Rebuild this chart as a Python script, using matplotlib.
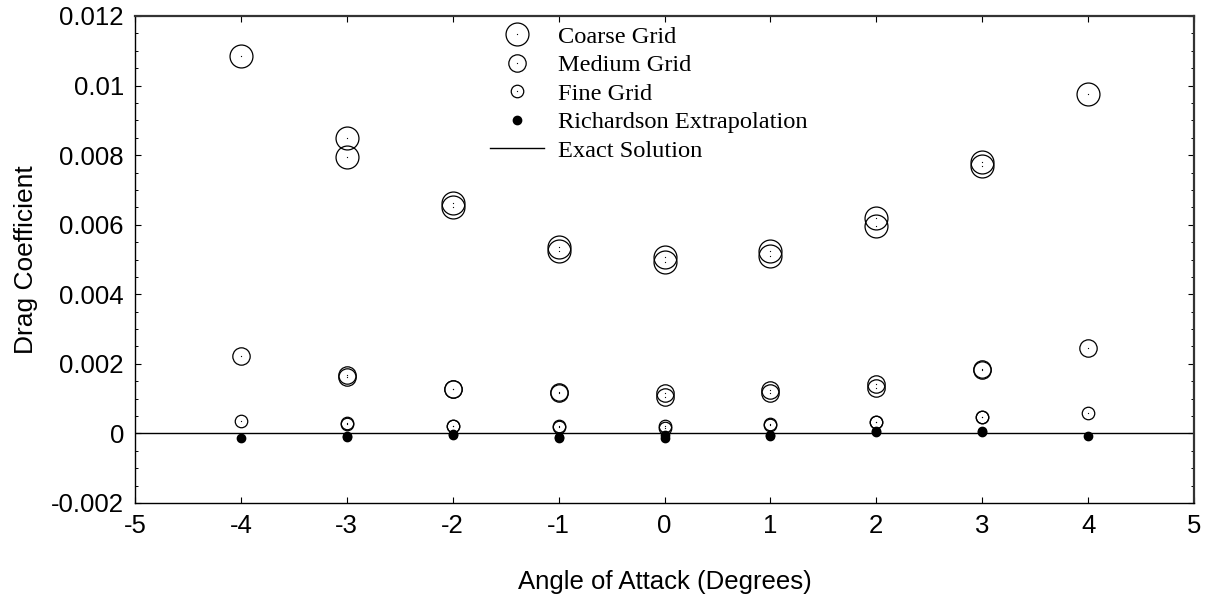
import matplotlib
matplotlib.use("Agg")
import matplotlib.pyplot as plt
from matplotlib.ticker import MultipleLocator
from matplotlib.lines import Line2D

# Angle of attack (degrees)
angles_a = [-4, -3, -2, -1, 0, 1, 2, 3, 4]
angles_b = [-3, -2, -1, 0, 1, 2, 3]

# Drag coefficient, first set of runs
coarse_a = [0.01086, 0.00850, 0.00662, 0.00535, 0.00508, 0.00524, 0.00619, 0.00779, 0.00977]
medium_a = [0.00222, 0.00169, 0.00129, 0.00120, 0.00115, 0.00125, 0.00141, 0.00186, 0.00245]
fine_a = [0.00035, 0.00029, 0.00022, 0.00021, 0.00021, 0.00027, 0.00034, 0.00048, 0.00059]
rich_a = [-0.00012, -0.00008, -0.00002, -0.00010, -0.00005, -0.00005, 0.00006, 0.00006, -0.00007]

# Drag coefficient, second set of runs
coarse_b = [0.00795, 0.00652, 0.00525, 0.00492, 0.00510, 0.00595, 0.00770]
medium_b = [0.00161, 0.00127, 0.00115, 0.00104, 0.00115, 0.00130, 0.00183]
fine_b = [0.00027, 0.00020, 0.00019, 0.00017, 0.00025, 0.00032, 0.00046]
rich_b = [-0.00011, -0.00004, -0.00012, -0.00013, -0.00007, 0.00003, 0.00003]

exact_value = 0.0

x_ticks = [-5, -4, -3, -2, -1, 0, 1, 2, 3, 4, 5]
y_ticks = [-0.002, 0, 0.002, 0.004, 0.006, 0.008, 0.01, 0.012]
y_tick_labels = ["-0.002", "0", "0.002", "0.004", "0.006", "0.008", "0.01", "0.012"]

fig = plt.figure(figsize=(12.11, 5.94), dpi=100)
ax = fig.add_axes([135 / 1211, 1 - 503 / 594, 1059 / 1211, 487 / 594])

circle_kw = dict(linestyle="none", marker="o", mfc="none", mec="black", mew=0.9)
dot_kw = dict(linestyle="none", marker="o", color="black", markersize=0.9, mew=0)

for xs, ys in ((angles_a, coarse_a), (angles_b, coarse_b)):
    ax.plot(xs, ys, markersize=16.5, **circle_kw, zorder=3)
    ax.plot(xs, ys, **dot_kw, zorder=4)
for xs, ys in ((angles_a, medium_a), (angles_b, medium_b)):
    ax.plot(xs, ys, markersize=12.5, **circle_kw, zorder=3)
    ax.plot(xs, ys, **dot_kw, zorder=4)
for xs, ys in ((angles_a, fine_a), (angles_b, fine_b)):
    ax.plot(xs, ys, markersize=9.0, **circle_kw, zorder=3)
    ax.plot(xs, ys, **dot_kw, zorder=4)
for xs, ys in ((angles_a, rich_a), (angles_b, rich_b)):
    ax.plot(xs, ys, linestyle="none", marker="o", color="black", markersize=6.0, zorder=5)

ax.axhline(exact_value, color="black", linewidth=1.0, zorder=2)

ax.set_xlim(-5, 5)
ax.set_ylim(-0.002, 0.012)
ax.set_xticks(x_ticks)
ax.set_xticklabels([str(v) for v in x_ticks])
ax.set_yticks(y_ticks)
ax.set_yticklabels(y_tick_labels)
ax.yaxis.set_minor_locator(MultipleLocator(0.0005))

sans = ["Liberation Sans", "DejaVu Sans"]
ax.tick_params(axis="both", which="major", direction="in", length=4, width=0.8,
               top=True, right=True, labelsize=18.5, pad=8)
ax.tick_params(axis="y", which="minor", direction="in", length=2, width=0.7, right=True)
for lab in ax.get_xticklabels() + ax.get_yticklabels():
    lab.set_fontfamily(sans)

for side in ("left", "bottom"):
    ax.spines[side].set_linewidth(1.0)
for side in ("top", "right"):
    ax.spines[side].set_linewidth(1.6)
    ax.spines[side].set_color("#333333")

ax.set_xlabel("Angle of Attack (Degrees)", fontsize=18.5, family=sans, labelpad=23)
ax.set_ylabel("Drag Coefficient", fontsize=19, family=sans, labelpad=9)

# Legend
h_coarse = (Line2D([], [], markersize=16.5, **circle_kw), Line2D([], [], **dot_kw))
h_medium = (Line2D([], [], markersize=12.5, **circle_kw), Line2D([], [], **dot_kw))
h_fine = (Line2D([], [], markersize=9.0, **circle_kw), Line2D([], [], **dot_kw))
h_rich = Line2D([], [], linestyle="none", marker="o", color="black", markersize=6.0)
h_exact = Line2D([], [], color="black", linewidth=1.0)
leg = ax.legend([h_coarse, h_medium, h_fine, h_rich, h_exact],
                ["Coarse Grid", "Medium Grid", "Fine Grid", "Richardson Extrapolation", "Exact Solution"],
                loc="upper left", bbox_to_anchor=(0.3355, 0.98), frameon=False,
                prop={"family": ["Liberation Serif", "DejaVu Serif"], "size": 17.6},
                handlelength=2.2, handletextpad=0.55, labelspacing=0.26, borderpad=0,
                borderaxespad=0)

fig.savefig("out.png", dpi=100)
